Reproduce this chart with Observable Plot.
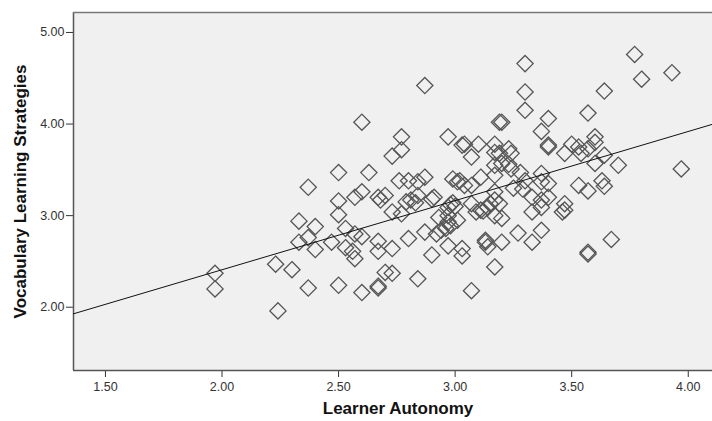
<!DOCTYPE html>
<html>
<head>
<meta charset="utf-8">
<script src="https://cdn.jsdelivr.net/npm/d3@7"></script>
<script src="https://cdn.jsdelivr.net/npm/@observablehq/plot@0.6"></script>
<style>
  html, body { margin: 0; padding: 0; background: #ffffff; }
  svg { display: block; }
</style>
</head>
<body>
<script>
// Learner Autonomy (x) and Vocabulary Learning Strategies (y)
const autonomy = [
  1.97,1.97,2.23,2.30,2.37,2.24,2.33,2.40,2.33,2.37,2.40,2.37,2.50,2.50,2.50,2.47,2.53,2.57,2.60,2.53,
  2.56,2.57,2.50,2.60,2.67,2.67,2.70,2.73,2.84,2.67,2.67,2.73,2.80,2.87,2.90,2.73,2.77,2.60,2.87,2.77,
  2.77,2.73,2.63,2.76,2.80,2.87,2.57,2.60,2.67,2.70,2.68,2.79,2.81,2.83,2.90,2.97,3.04,3.03,3.10,3.07,
  3.17,3.19,3.17,3.19,2.84,2.99,3.01,3.02,3.04,3.07,3.11,2.84,2.91,3.17,2.97,2.98,2.99,3.07,3.09,3.15,
  3.17,3.12,2.93,2.97,3.01,2.97,2.92,2.94,2.96,2.98,2.97,3.03,3.03,3.13,3.14,3.17,3.07,3.30,3.30,3.30,
  3.20,3.40,3.37,3.23,3.40,3.50,3.77,3.80,3.93,3.64,3.57,3.40,3.47,3.53,3.54,3.57,3.60,3.60,3.64,3.60,
  3.70,3.97,3.24,3.20,3.23,3.24,3.17,3.17,3.28,3.30,3.37,3.37,3.40,3.29,3.17,3.19,3.33,3.37,3.40,3.47,
  3.11,3.14,3.20,3.33,3.37,3.47,3.46,3.13,3.20,3.27,3.37,3.33,3.57,3.57,3.67,3.53,3.57,3.63,3.64,3.25,
  3.00
];
const vocab = [
  2.37,2.20,2.47,2.41,2.21,1.96,2.94,2.88,2.71,2.76,2.63,3.31,3.47,3.16,3.01,2.71,2.86,2.80,2.77,2.65,
  2.61,2.53,2.24,2.16,2.21,2.23,2.38,2.37,2.31,2.72,2.61,2.64,2.75,2.82,2.57,3.04,3.02,4.02,4.42,3.86,
  3.72,3.65,3.47,3.38,3.38,3.42,3.20,3.26,3.20,3.22,3.17,3.15,3.17,3.14,3.18,3.86,3.78,3.77,3.78,3.64,
  3.78,4.02,3.69,3.68,3.37,3.40,3.37,3.38,3.33,3.33,3.42,3.22,3.20,3.26,3.09,3.12,3.14,3.13,3.04,3.13,
  3.00,3.05,2.98,2.93,2.95,3.00,2.80,2.84,2.86,2.89,2.67,2.64,2.56,2.73,2.66,2.44,2.18,4.66,4.35,4.15,
  4.02,4.06,3.92,3.73,3.77,3.78,4.76,4.49,4.56,4.36,4.12,3.75,3.68,3.75,3.68,3.73,3.86,3.80,3.66,3.57,
  3.55,3.51,3.68,3.57,3.56,3.51,3.55,3.44,3.47,3.38,3.46,3.37,3.35,3.29,3.17,3.13,3.20,3.17,3.20,3.13,
  3.06,3.09,2.97,3.04,3.09,3.06,3.04,2.71,2.71,2.81,2.84,2.71,2.60,2.58,2.74,3.33,3.27,3.38,3.32,3.30,
  3.10
];

// axis ticks
const xTicks = [1.5, 2.0, 2.5, 3.0, 3.5, 4.0];
const yTicks = [2.0, 3.0, 4.0, 5.0];
const xDomain = [1.363, 4.104];
const yDomain = [1.309, 5.218];

// linear fit line
const fitIntercept = 0.899;
const fitSlope = 0.755;

const xTitle = "Learner Autonomy";
const yTitle = "Vocabulary Learning Strategies";

const points = autonomy.map((a, i) => ({a, v: vocab[i]}));
const fitLine = xDomain.map(a => ({a, v: fitIntercept + fitSlope * a}));

const chart = Plot.plot({
  width: 712,
  height: 421,
  marginLeft: 73,
  marginRight: 0,
  marginTop: 12,
  marginBottom: 51,
  style: {
    fontFamily: "'Liberation Sans', Arial, sans-serif",
    fontSize: "12.5px",
    color: "#333",
    background: "#ffffff",
    overflow: "visible"
  },
  x: {
    domain: xDomain,
    ticks: xTicks,
    tickFormat: d => d.toFixed(2),
    tickSize: 7,
    tickPadding: 5,
    label: null
  },
  y: {
    domain: yDomain,
    ticks: yTicks,
    tickFormat: d => d.toFixed(2),
    tickSize: 7,
    tickPadding: 2,
    label: null
  },
  marks: [
    Plot.frame({fill: "#f0f0f0", stroke: "none"}),
    Plot.ruleX([xDomain[0]], {stroke: "#555", strokeWidth: 1.5}),
    Plot.ruleY([yDomain[0]], {stroke: "#555", strokeWidth: 1.5}),
    Plot.ruleY([yDomain[1]], {stroke: "#777", strokeWidth: 1.5}),
    Plot.dot(points, {
      x: "a", y: "v",
      symbol: "diamond2",
      r: 7.3,
      fill: "none",
      stroke: "#555",
      strokeWidth: 1.3
    }),
    Plot.line(fitLine, {x: "a", y: "v", stroke: "#111", strokeWidth: 1}),
    Plot.text([yTitle], {
      frameAnchor: "left", dx: -53, rotate: -90,
      fontWeight: "bold", fontSize: 17, fill: "#111", textAnchor: "middle"
    }),
    Plot.text([xTitle], {
      frameAnchor: "bottom", dy: 43, dx: 5,
      fontWeight: "bold", fontSize: 17, fill: "#111", textAnchor: "middle"
    })
  ]
});

document.body.append(chart);
</script>
</body>
</html>
